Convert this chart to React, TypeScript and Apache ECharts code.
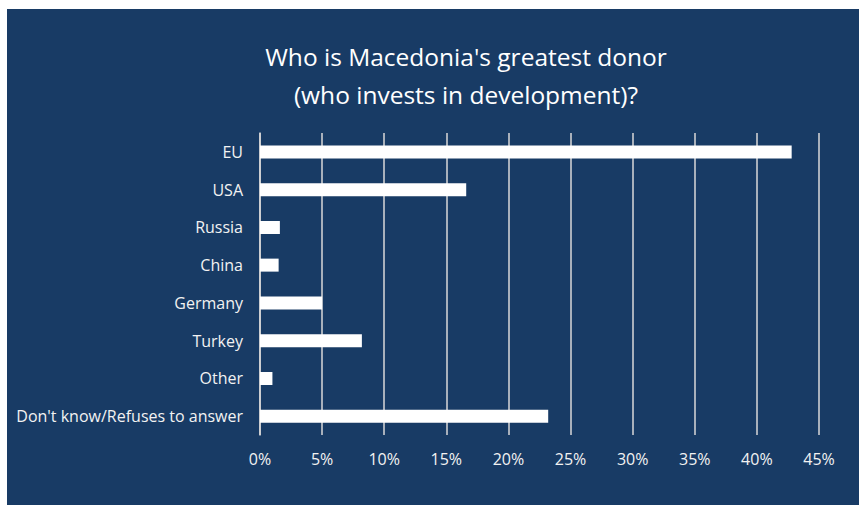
import React, { useEffect, useRef } from "react";
import * as echarts from "echarts";

const categories = [
  "EU",
  "USA",
  "Russia",
  "China",
  "Germany",
  "Turkey",
  "Other",
  "Don't know/Refuses to answer",
];
const values = [42.8, 16.6, 1.6, 1.5, 5.0, 8.2, 1.0, 23.2];
const titleLines = ["Who is Macedonia's greatest donor", "(who invests in development)?"];

export default function App() {
  const ref = useRef<HTMLDivElement>(null);
  useEffect(() => {
    if (!ref.current) return;
    const chart = echarts.init(ref.current, null, { renderer: "svg" });
    chart.setOption({
      animation: false,
      backgroundColor: "#183b65",
      textStyle: { fontFamily: "Open Sans" },
      title: {
        text: titleLines.join("\n"),
        left: 454,
        top: 23,
        textAlign: "center",
        textStyle: {
          color: "#ffffff",
          fontSize: 24.5,
          fontWeight: "normal",
          fontFamily: "Open Sans",
          lineHeight: 38,
        },
      },
      grid: { left: 253, right: 40, top: 124, bottom: 70, containLabel: false },
      xAxis: {
        type: "value",
        min: 0,
        max: 45,
        interval: 5,
        axisLine: { show: false },
        axisTick: { show: false },
        splitLine: { show: true, lineStyle: { color: "#d9d9d9", width: 1.5 } },
        axisLabel: {
          color: "#f2f2f2",
          fontSize: 16,
          margin: 16,
          formatter: (v: number) => `${v}%`,
        },
      },
      yAxis: {
        type: "category",
        data: categories,
        inverse: true,
        axisLine: { show: true, lineStyle: { color: "#d9d9d9", width: 1.5 } },
        axisTick: { show: false },
        axisLabel: { color: "#f2f2f2", fontSize: 16, margin: 17 },
      },
      series: [
        {
          type: "bar",
          data: values,
          barWidth: 13,
          itemStyle: { color: "#ffffff" },
        },
      ],
    });
    return () => chart.dispose();
  }, []);
  return (
    <div style={{ position: "fixed", left: 0, top: 0, width: 859, height: 505, background: "#ffffff" }}>
      <div ref={ref} style={{ position: "absolute", left: 7, top: 9, width: 852, height: 496 }} />
    </div>
  );
}
